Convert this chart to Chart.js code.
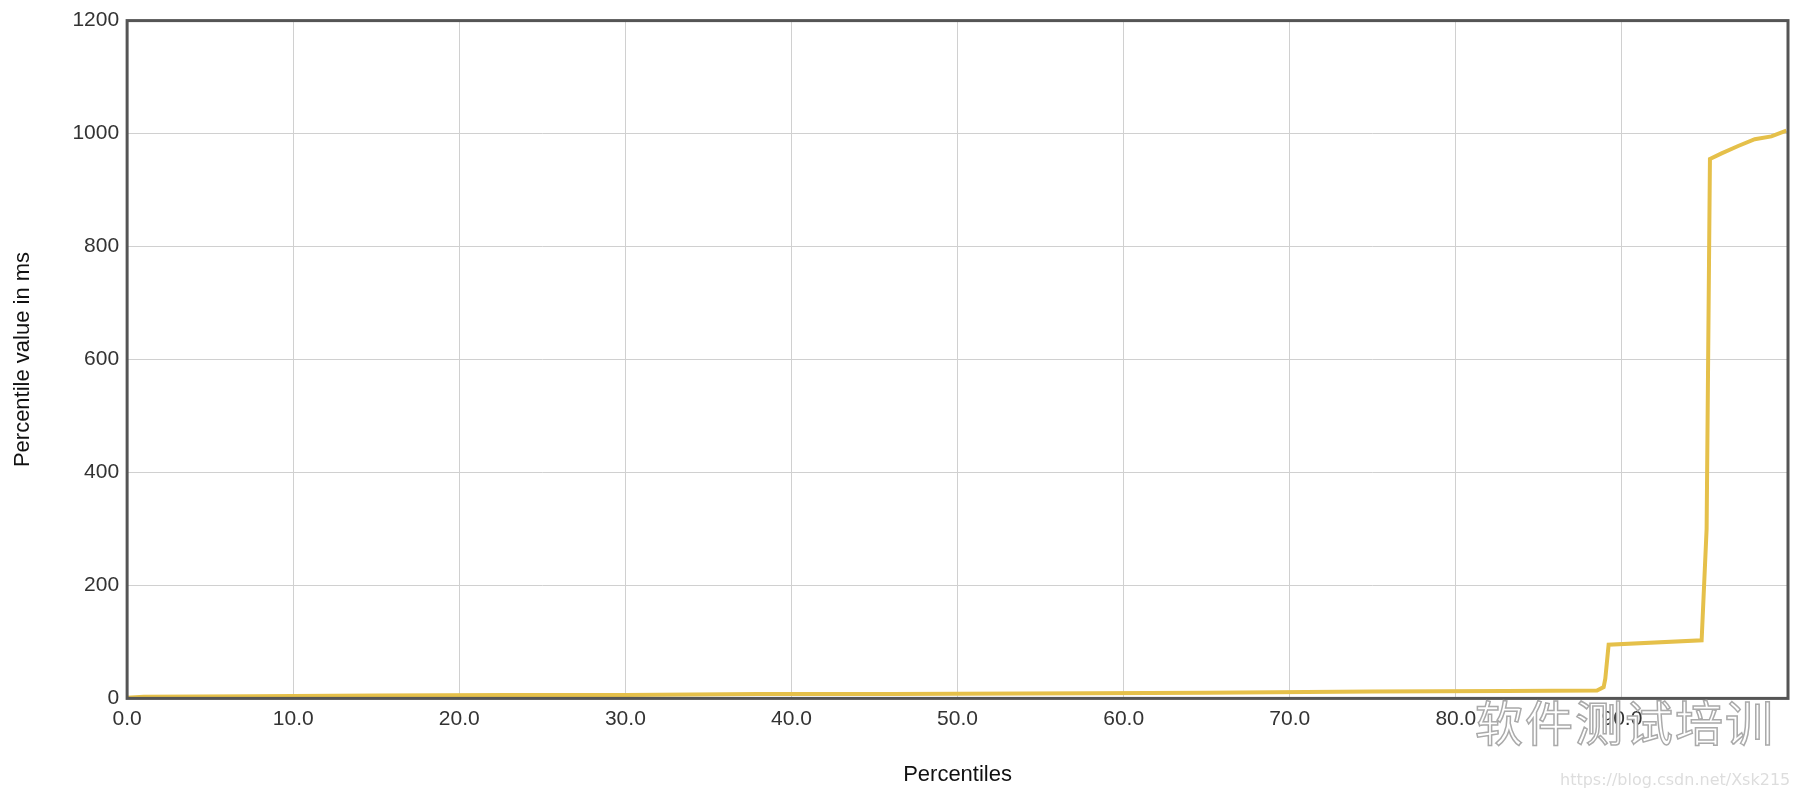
<!DOCTYPE html>
<html>
<head>
<meta charset="utf-8">
<script src="https://cdn.jsdelivr.net/npm/chart.js@4"></script>
<style>
  html, body { margin: 0; padding: 0; background: #fff; }
  #wrap { width: 1804px; height: 800px; position: relative; }
  #mark { position: absolute; left: 1475px; top: 685px; font: 48px "Noto Sans CJK SC"; color: #fff;
          -webkit-text-stroke: 1.5px #aaa; letter-spacing: 2px; }
  #url { position: absolute; left: 1560px; top: 770px; font: 16px "DejaVu Sans"; color: #ddd; }
</style>
</head>
<body>
<div id="wrap">
  <canvas id="chart" width="1804" height="800"></canvas>
  <div id="mark">软件测试培训</div>
  <div id="url">https://blog.csdn.net/Xsk215</div>
</div>
<script>
// percentile -> value (ms)
const percentiles = [0, 1, 7.5, 15, 23, 30, 38, 46, 58, 65, 75, 83, 88.5, 88.9, 89.0, 89.2, 94.8, 95.1, 95.3, 96, 97, 98, 99, 99.9];
const values      = [1, 3, 4,   5,  6,  6,  8,  8,  9,  10, 12, 13, 14,   20,   35,   95,   103,  300,  955,  965, 978, 990, 995, 1005];

const xTicks = [0, 10, 20, 30, 40, 50, 60, 70, 80, 90];

const frame = {
  id: "frame",
  afterDraw(chart) {
    const a = chart.chartArea, c = chart.ctx;
    c.save();
    c.strokeStyle = "#555";
    c.lineWidth = 3;
    c.strokeRect(a.left, a.top, a.right - a.left, a.bottom - a.top);
    c.restore();
  }
};

new Chart(document.getElementById("chart"), {
  type: "line",
  data: {
    datasets: [{
      data: percentiles.map((p, i) => ({ x: p, y: values[i] })),
      borderColor: "#e5c04a",
      borderWidth: 4,
      pointRadius: 0,
      tension: 0
    }]
  },
  options: {
    responsive: false,
    animation: false,
    layout: { padding: { left: 6, right: 16, top: 12, bottom: 8 } },
    plugins: { legend: { display: false }, tooltip: { enabled: false } },
    scales: {
      x: {
        type: "linear", min: 0, max: 100,
        afterBuildTicks: ax => { ax.ticks = xTicks.map(v => ({ value: v })); },
        ticks: { callback: v => v.toFixed(1), color: "#333", font: { family: "Liberation Sans", size: 21 }, padding: 8, maxRotation: 0 },
        grid: { color: "#d0d0d0", drawTicks: false },
        border: { display: false },
        title: { display: true, text: "Percentiles", color: "#111", font: { family: "Liberation Sans", size: 22 }, padding: { top: 22 } }
      },
      y: {
        min: 0, max: 1200,
        ticks: { stepSize: 200, callback: v => String(v), color: "#333", font: { family: "Liberation Sans", size: 21 }, padding: 8 },
        grid: { color: "#d0d0d0", drawTicks: false },
        border: { display: false },
        title: { display: true, text: "Percentile value in ms", color: "#111", font: { family: "Liberation Sans", size: 22 }, padding: { bottom: 28 } }
      }
    }
  },
  plugins: [frame]
});
</script>
</body>
</html>
